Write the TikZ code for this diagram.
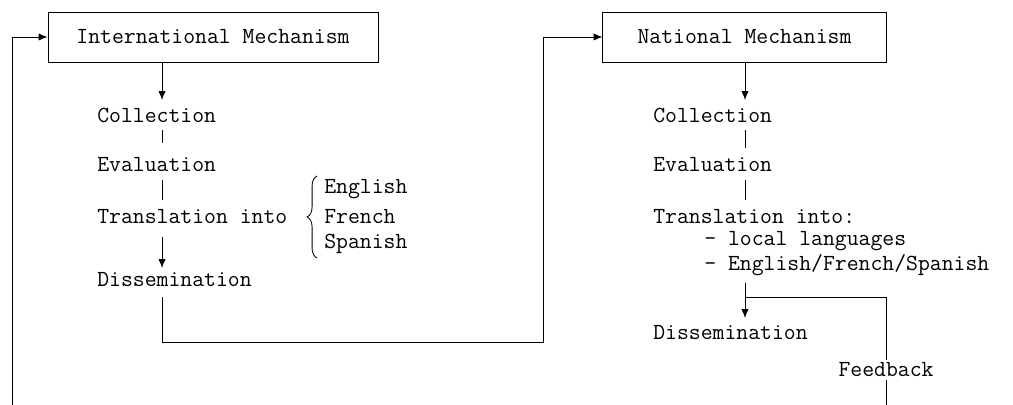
\documentclass[tikz,border=0pt]{standalone}
\usetikzlibrary{arrows.meta,decorations.pathreplacing}
\begin{document}
\begin{tikzpicture}[
    x=0.025cm, y=-0.025cm,
    font=\fontsize{16.4}{20}\selectfont\ttfamily,
    mechbox/.style={rectangle, draw, line width=0.6pt, minimum height=1.25cm, inner sep=0pt},
    steptext/.style={anchor=west, inner sep=0pt},
    myline/.style={line width=0.6pt},
    myarrow/.style={line width=0.6pt, -{Latex[length=2.2mm,width=1.8mm]}},
]
\useasboundingbox (0,0) rectangle (1013,405);

% international side
\node[mechbox, minimum width=8.25cm] (intl) at (213,37) {International Mechanism};
\node[steptext] (icol) at (97,115) {Collection};
\node[steptext] (ieva) at (97,165) {Evaluation};
\node[steptext] (itra) at (97,217) {Translation into};
\node[steptext] (ieng) at (324,189) {English};
\node[steptext] (ifre) at (324,217) {French};
\node[steptext] (ispa) at (324,244) {Spanish};
\node[steptext] (idis) at (97,280) {Dissemination};

% national side
\node[mechbox, minimum width=7.08cm] (natl) at (744.5,37) {National Mechanism};
\node[steptext] (ncol) at (653,115) {Collection};
\node[steptext] (neva) at (653,165) {Evaluation};
\node[steptext] (ntra) at (653,217) {Translation into:};
\node[steptext] (nloc) at (704,241) {- local languages};
\node[steptext] (nefs) at (704,265) {- English/French/Spanish};
\node[steptext] (ndis) at (653,333) {Dissemination};
\node[inner sep=2pt] (fback) at (886,370) {Feedback};

\coordinate (ret) at (12,405);
\coordinate (fend) at (886,405);
\coordinate (fjoin) at (745,297);

% international chain
\draw[myarrow] (intl.south -| 162,0) -- (162,100);
\draw[myline] (162,130) -- (162,143);
\draw[myline] (162,180) -- (162,200);
\draw[myarrow] (162,237) -- (162,268);
\draw[decorate, decoration={brace, amplitude=7pt}, myline] (317,258) -- (317,176);

% link to national
\draw[myarrow] (idis.south -| 162,0) ++(0,10) |- (543,342) |- (natl.west);
\draw[myarrow] (ret) |- (intl.west);

% national chain
\draw[myarrow] (natl.south -| 745,0) -- (745,100);
\draw[myline] (745,130) -- (745,148);
\draw[myline] (745,180) -- (745,200);
\draw[myarrow] (745,283) -- (745,318);

% feedback loop
\draw[myline] (fback.north) |- (fjoin);
\draw[myline] (fback.south) -- (fend);
\end{tikzpicture}
\end{document}
